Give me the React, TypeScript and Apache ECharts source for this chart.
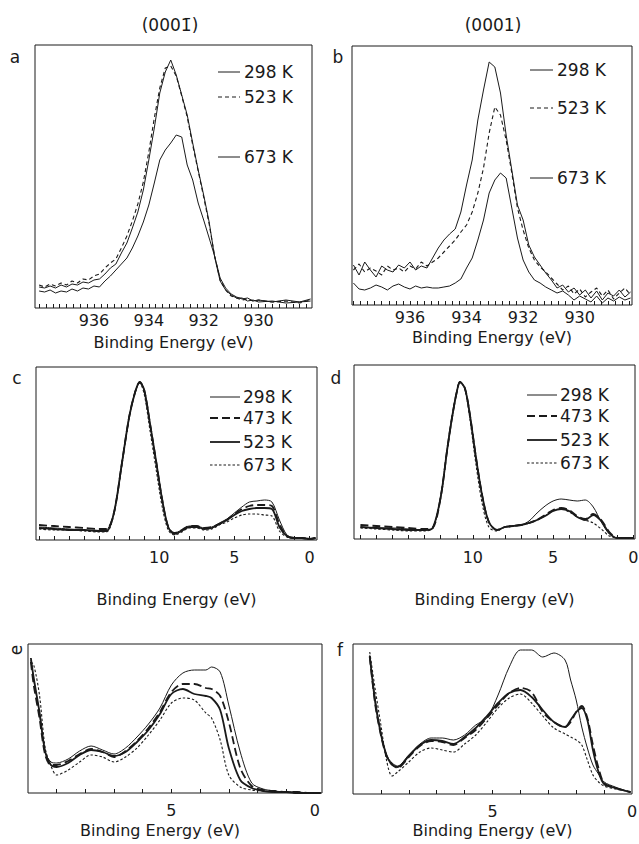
import React, { useEffect, useRef } from 'react';
import * as echarts from 'echarts';

// ---------- Panel a : Cu 2p3/2, (000-1) face ----------
const energyA = [938.0, 937.8, 937.6, 937.4, 937.2, 937.0, 936.8, 936.6, 936.4, 936.2, 936.0, 935.8, 935.6, 935.4, 935.2, 935.0, 934.8, 934.6, 934.4, 934.2, 934.0, 933.8, 933.6, 933.4, 933.2, 933.0, 932.8, 932.6, 932.4, 932.2, 932.0, 931.8, 931.6, 931.4, 931.2, 931.0, 930.8, 930.6, 930.4, 930.2, 930.0, 929.5, 929.0, 928.5, 928.1];
const a298 = [21, 20, 22, 20, 23, 21, 24, 23, 26, 25, 28, 29, 34, 40, 44, 55, 65, 80, 96, 118, 148, 180, 215, 236, 248, 233, 213, 193, 165, 138, 113, 86, 51, 27, 18, 13, 10, 10, 7, 8, 6, 7, 5, 6, 7];
const a523 = [23, 21, 24, 22, 25, 23, 27, 25, 29, 28, 32, 34, 40, 45, 49, 60, 72, 87, 104, 126, 156, 190, 220, 240, 242, 232, 212, 191, 163, 137, 111, 84, 52, 28, 18, 12, 10, 8, 9, 7, 8, 6, 7, 5, 8];
const a673 = [17, 16, 18, 15, 17, 16, 19, 17, 20, 19, 22, 21, 27, 32, 38, 44, 50, 60, 72, 86, 103, 125, 148, 158, 165, 173, 171, 143, 128, 105, 88, 70, 52, 30, 20, 14, 11, 9, 10, 7, 8, 6, 8, 6, 9];

// ---------- Panel b : Cu 2p3/2, (0001) face ----------
const energyB = [938.0, 937.8, 937.6, 937.4, 937.2, 937.0, 936.8, 936.6, 936.4, 936.2, 936.0, 935.8, 935.6, 935.4, 935.2, 935.0, 934.8, 934.6, 934.4, 934.2, 934.0, 933.8, 933.6, 933.4, 933.2, 933.0, 932.8, 932.6, 932.4, 932.2, 932.0, 931.8, 931.6, 931.4, 931.2, 931.0, 930.8, 930.6, 930.4, 930.2, 930.0, 929.8, 929.6, 929.4, 929.2, 929.0, 928.8, 928.6, 928.4, 928.2];
const b298 = [40, 30, 43, 35, 28, 39, 35, 33, 40, 37, 43, 35, 39, 37, 47, 57, 65, 71, 76, 93, 120, 145, 185, 215, 243, 238, 212, 170, 135, 100, 85, 60, 48, 40, 32, 25, 17, 20, 13, 17, 10, 15, 7, 14, 5, 12, 9, 15, 8, 13];
const b523 = [35, 41, 33, 37, 34, 30, 39, 35, 37, 33, 39, 36, 43, 39, 43, 47, 53, 59, 65, 73, 80, 93, 112, 137, 172, 198, 190, 165, 132, 97, 75, 57, 45, 38, 33, 27, 21, 15, 19, 11, 16, 8, 13, 17, 9, 15, 6, 12, 17, 10];
const b673 = [22, 16, 15, 17, 20, 18, 15, 19, 21, 18, 16, 19, 17, 18, 17, 17, 18, 19, 22, 26, 37, 47, 65, 85, 112, 125, 132, 127, 97, 67, 45, 33, 25, 22, 18, 15, 12, 14, 10, 5, 9, 6, 3, 9, 2, 7, 4, 8, 5, 7];

// ---------- Panel c : valence band, (000-1) ----------
const energyC = [18, 17, 16, 15, 14, 13.5, 13, 12.5, 12, 11.6, 11.3, 11, 10.6, 10.2, 9.8, 9.4, 9, 8.5, 8, 7.5, 7, 6.5, 6, 5.5, 5, 4.5, 4, 3.5, 3, 2.5, 2, 1.5, 1, 0.5, 0, -0.4];
const c298 = [13, 12, 11, 10, 9, 10, 28, 75, 123, 148, 158, 150, 115, 78, 40, 13, 7, 10, 14, 14, 12, 13, 17, 21, 27, 33, 38, 39, 40, 38, 20, 5, 2, 2, 1, 2];
const c473 = [15, 14, 13, 12, 11, 11, 28, 75, 123, 148, 158, 150, 115, 78, 40, 13, 7, 10, 14, 14, 12, 13, 16, 20, 26, 31, 34, 35, 35, 34, 16, 4, 2, 2, 1, 2];
const c523 = [12, 11, 10, 10, 9, 9, 28, 75, 123, 148, 158, 150, 115, 78, 40, 13, 6, 9, 13, 13, 11, 12, 16, 20, 25, 29, 31, 32, 32, 31, 13, 4, 2, 2, 1, 2];
const c673 = [11, 10, 10, 9, 8, 8, 27, 74, 122, 148, 157, 146, 108, 70, 33, 10, 5, 8, 12, 12, 10, 11, 15, 18, 22, 25, 26, 26, 25, 24, 9, 3, 2, 2, 1, 2];

// ---------- Panel d : valence band, (0001) ----------
const energyD = [17, 16, 15, 14, 13, 12.5, 12, 11.6, 11.3, 11, 10.8, 10.5, 10.2, 9.8, 9.4, 9, 8.5, 8, 7.5, 7, 6.5, 6, 5.5, 5, 4.5, 4, 3.5, 3, 2.5, 2, 1.5, 1, 0.5, 0];
const d298 = [12, 11, 11, 10, 9, 11, 42, 89, 121, 147, 157, 151, 126, 81, 42, 17, 9, 12, 13, 14, 18, 26, 33, 38, 40, 39, 38, 39, 32, 17, 5, 1, 1, 1];
const d473 = [14, 13, 12, 11, 10, 11, 42, 89, 121, 147, 157, 151, 126, 81, 42, 17, 9, 12, 13, 14, 16, 19, 24, 29, 31, 29, 23, 20, 25, 19, 7, 1, 1, 1];
const d523 = [12, 11, 10, 9, 9, 11, 42, 89, 121, 147, 157, 151, 126, 81, 42, 17, 9, 12, 13, 14, 16, 19, 23, 28, 30, 28, 22, 19, 24, 18, 6, 1, 1, 1];
const d673 = [11, 10, 9, 8, 8, 11, 42, 89, 121, 147, 157, 150, 122, 74, 34, 12, 8, 12, 13, 14, 16, 19, 23, 28, 30, 27, 22, 19, 16, 10, 3, 1, 1, 1];

// ---------- Panel e : expanded valence band, (000-1) ----------
const energyE = [9.9, 9.8, 9.6, 9.4, 9.2, 9.0, 8.6, 8.2, 7.8, 7.4, 7.0, 6.6, 6.2, 5.8, 5.4, 5.0, 4.6, 4.2, 3.8, 3.6, 3.3, 3.0, 2.6, 2.2, 1.8, 1.4, 1.0, 0.6, 0.2, -0.2];
const e298 = [133, 113, 80, 41, 31, 30, 34, 42, 47, 43, 39, 45, 56, 69, 85, 108, 120, 123, 123, 126, 121, 88, 41, 10, 4, 2, 1, 1, 0, 0];
const e473 = [131, 108, 75, 38, 28, 28, 32, 39, 44, 41, 36, 42, 52, 65, 81, 101, 109, 109, 105, 104, 97, 71, 25, 7, 3, 2, 1, 1, 0, 0];
const e523 = [135, 115, 81, 41, 28, 26, 30, 38, 43, 41, 37, 41, 51, 63, 79, 99, 104, 99, 97, 95, 83, 45, 13, 5, 2, 1, 1, 0, 0, 0];
const e673 = [131, 128, 98, 45, 27, 18, 23, 31, 38, 36, 31, 36, 45, 58, 73, 90, 95, 93, 80, 75, 53, 18, 6, 3, 2, 1, 1, 0, 0, 0];

// ---------- Panel f : expanded valence band, (0001) ----------
const energyF = [9.4, 9.2, 9.0, 8.8, 8.6, 8.4, 8.0, 7.6, 7.2, 6.8, 6.4, 6.0, 5.6, 5.2, 4.8, 4.4, 4.0, 3.6, 3.2, 2.8, 2.4, 2.2, 2.0, 1.8, 1.6, 1.4, 1.2, 1.0, 0.6, 0.2, 0.05];
const f298 = [139, 94, 61, 39, 31, 28, 39, 50, 56, 56, 54, 59, 69, 76, 99, 127, 144, 144, 137, 141, 134, 114, 94, 67, 46, 29, 20, 12, 7, 3, 2];
const f473 = [137, 89, 59, 38, 30, 26, 37, 48, 53, 52, 49, 56, 64, 76, 89, 101, 106, 102, 82, 72, 67, 72, 82, 88, 76, 49, 26, 11, 6, 3, 2];
const f523 = [138, 91, 60, 39, 29, 27, 38, 49, 54, 53, 50, 57, 66, 78, 91, 101, 104, 97, 84, 72, 67, 74, 82, 86, 74, 44, 22, 10, 6, 3, 2];
const f673 = [142, 104, 69, 34, 18, 22, 32, 42, 46, 44, 42, 50, 59, 72, 86, 96, 100, 91, 78, 66, 60, 57, 54, 49, 34, 19, 12, 8, 5, 3, 2];

// ---------- tick labels ----------
const labelsCore = [936, 934, 932, 930];
const labelsValence = [10, 5, 0];
const labelsExpanded = [5, 0];

const tempsAB = ['298 K', '523 K', '673 K'];
const tempsCD = ['298 K', '473 K', '523 K', '673 K'];

const FONT = 'DejaVu Sans';
const INK = '#1a1a1a';

const STYLES: Record<string, { type: any; width: number }> = {
  thin: { type: 'solid', width: 1 },
  shortDash: { type: [4, 3], width: 1.1 },
  longDash: { type: [8, 4], width: 1.8 },
  thick: { type: 'solid', width: 1.8 },
  dot: { type: [2.5, 2], width: 1.1 },
};

function ticks(lo: number, hi: number, step: number) {
  const out: number[] = [];
  for (let v = lo; v <= hi + 1e-9; v += step) out.push(Math.round(v * 100) / 100);
  return out;
}

const panels = [
  {
    grid: { left: 35, top: 45, width: 277, height: 263 }, xMin: 928.05, xMax: 938.15, yMax: 263,
    energy: energyA, values: [a298, a523, a673], names: tempsAB, styles: ['thin', 'shortDash', 'thin'],
    labels: labelsCore, tickVals: ticks(928.25, 938, 0.25), labelMargin: 4, nameGap: 26, namePadRight: 0, smooth: false,
  },
  {
    grid: { left: 352, top: 46, width: 280, height: 259 }, xMin: 928.15, xMax: 938.05, yMax: 259,
    energy: energyB, values: [b298, b523, b673], names: tempsAB, styles: ['thin', 'shortDash', 'thin'],
    labels: labelsCore, tickVals: ticks(928.25, 938, 0.25), labelMargin: 4, nameGap: 24, namePadRight: 0, smooth: false,
  },
  {
    grid: { left: 36, top: 367, width: 281, height: 173 }, xMin: -0.5, xMax: 18.2, yMax: 173,
    energy: energyC, values: [c298, c473, c523, c673], names: tempsCD, styles: ['thin', 'longDash', 'thick', 'dot'],
    labels: labelsValence, tickVals: ticks(0, 18, 1), labelMargin: 9, nameGap: 51, namePadRight: 0, smooth: 0.3,
  },
  {
    grid: { left: 354, top: 365, width: 281, height: 174 }, xMin: -0.1, xMax: 17.4, yMax: 174,
    energy: energyD, values: [d298, d473, d523, d673], names: tempsCD, styles: ['thin', 'longDash', 'thick', 'dot'],
    labels: labelsValence, tickVals: ticks(0, 17, 1), labelMargin: 10, nameGap: 52, namePadRight: 0, smooth: 0.3,
  },
  {
    grid: { left: 28, top: 644, width: 294, height: 149 }, xMin: -0.25, xMax: 10, yMax: 149,
    energy: energyE, values: [e298, e473, e523, e673], names: tempsCD, styles: ['thin', 'longDash', 'thick', 'dot'],
    labels: labelsExpanded, tickVals: ticks(1, 9, 1), labelMargin: 9, nameGap: 29, namePadRight: 30, smooth: 0.3,
  },
  {
    grid: { left: 353, top: 644, width: 279, height: 150 }, xMin: 0, xMax: 10, yMax: 150,
    energy: energyF, values: [f298, f473, f523, f673], names: tempsCD, styles: ['thin', 'longDash', 'thick', 'dot'],
    labels: labelsExpanded, tickVals: ticks(1, 9, 1), labelMargin: 9, nameGap: 28, namePadRight: 0, smooth: 0.3,
  },
];

// legend decoration placement (pixels) for panels a-d
const legendLayout = [
  { x1: 218, x2: 240, tx: 244, rows: [72, 97, 157] },
  { x1: 530, x2: 553, tx: 557, rows: [70, 108, 178] },
  { x1: 210, x2: 240, tx: 243, rows: [397, 418, 442, 465] },
  { x1: 527, x2: 557, tx: 560, rows: [395, 416, 440, 463] },
];

const panelLetters = [
  { t: 'a', x: 15, y: 57, r: 0 },
  { t: 'b', x: 338, y: 57, r: 0 },
  { t: 'c', x: 17, y: 378, r: 0 },
  { t: 'd', x: 336, y: 378, r: 0 },
  { t: 'e', x: 16, y: 650, r: Math.PI / 2 },
  { t: 'f', x: 340, y: 650, r: 0 },
];

export default function App() {
  const ref = useRef<HTMLDivElement>(null);
  useEffect(() => {
    if (!ref.current) return;
    const chart = echarts.init(ref.current, undefined, { renderer: 'svg' });

    const grid: any[] = [];
    const xAxis: any[] = [];
    const yAxis: any[] = [];
    const series: any[] = [];
    const graphic: any[] = [];

    panels.forEach((p, i) => {
      grid.push({
        ...p.grid, show: true, borderColor: INK, borderWidth: 1, backgroundColor: 'transparent',
        containLabel: false, outerBoundsMode: 'none',
      });
      xAxis.push({
        type: 'value', gridIndex: i, inverse: true, min: p.xMin, max: p.xMax,
        splitLine: { show: false },
        axisLine: { show: false },
        axisTick: { show: true, inside: true, length: 4, lineStyle: { color: INK, width: 1 }, customValues: p.tickVals },
        axisLabel: { customValues: p.labels, margin: p.labelMargin, color: INK, fontSize: 16, fontFamily: FONT },
        name: 'Binding Energy (eV)', nameLocation: 'middle', nameGap: p.nameGap,
        nameTextStyle: { color: INK, fontSize: 16, fontFamily: FONT, padding: [0, p.namePadRight, 0, 0] },
      });
      yAxis.push({ type: 'value', gridIndex: i, min: 0, max: p.yMax, show: false });
      p.values.forEach((vals, k) => {
        const st = STYLES[p.styles[k]];
        series.push({
          type: 'line', name: p.names[k], xAxisIndex: i, yAxisIndex: i,
          data: p.energy.map((e, j) => [e, vals[j]]),
          showSymbol: false, smooth: p.smooth, clip: false,
          lineStyle: { color: INK, width: st.width, type: st.type },
        });
      });
    });

    legendLayout.forEach((L, i) => {
      const p = panels[i];
      L.rows.forEach((y, k) => {
        const st = STYLES[p.styles[k]];
        graphic.push({
          type: 'line', shape: { x1: L.x1, y1: y, x2: L.x2, y2: y },
          style: { stroke: INK, lineWidth: st.width, lineDash: Array.isArray(st.type) ? st.type : null },
        });
        graphic.push({
          type: 'text', x: L.tx, y,
          style: { text: p.names[k], fill: INK, fontSize: 17, fontFamily: FONT, verticalAlign: 'middle', align: 'left' },
        });
      });
    });

    panelLetters.forEach((l) => {
      graphic.push({
        type: 'text', x: l.x, y: l.y, rotation: l.r,
        style: { text: l.t, fill: INK, fontSize: 17, fontFamily: FONT, verticalAlign: 'middle', align: 'center' },
      });
    });

    graphic.push({
      type: 'text', x: 170, y: 25,
      style: { text: '(000' + '1\u0304' + ')', fill: INK, fontSize: 17, fontFamily: FONT, verticalAlign: 'middle', align: 'center' },
    });
    graphic.push({
      type: 'text', x: 493, y: 25,
      style: { text: '(0001)', fill: INK, fontSize: 17, fontFamily: FONT, verticalAlign: 'middle', align: 'center' },
    });

    chart.setOption({
      animation: false,
      backgroundColor: '#ffffff',
      grid, xAxis, yAxis, series, graphic,
    });
    return () => chart.dispose();
  }, []);

  return <div ref={ref} style={{ position: 'absolute', left: 0, top: 0, width: 639, height: 844 }} />;
}
